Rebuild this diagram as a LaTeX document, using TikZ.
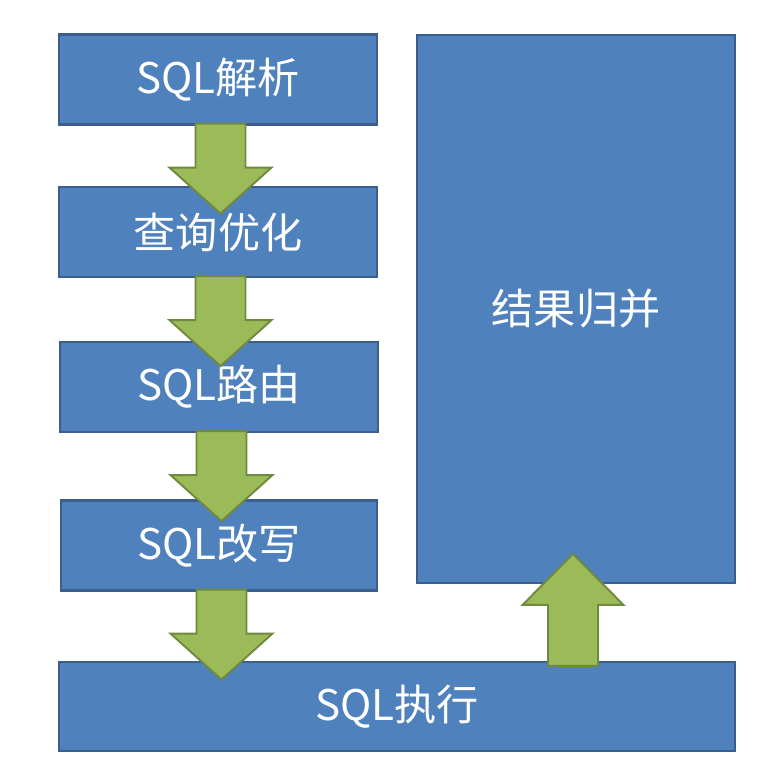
\documentclass[tikz,border=0pt]{standalone}
\usepackage{fontspec}
\newfontfamily\cjk{Noto Sans CJK SC}
\usepackage{xcolor}
\usepackage{tikz}
\usetikzlibrary{positioning, calc}
\definecolor{boxblue}{HTML}{4F81BD}
\definecolor{boxedge}{HTML}{3A5F8C}
\definecolor{arrgreen}{HTML}{9BBB59}
\definecolor{arredge}{HTML}{71893F}

\begin{document}
\begin{tikzpicture}[
  stage/.style={rectangle, draw=boxedge, fill=boxblue, line width=1.2pt,
                text=white, font=\cjk\fontsize{24}{29}\selectfont,
                minimum width=6.36cm, minimum height=1.8cm, inner sep=0pt},
  flow/.style={draw=arredge, fill=arrgreen, line width=1.1pt, line join=miter}
]
\useasboundingbox (0,0) rectangle (15.56,-15.62);
\node[stage] (parse) at (4.36,-1.59) {SQL解析};
\node[stage] (optim) at (4.36,-4.64) {查询优化};
\node[stage] (route) at (4.38,-7.74) {SQL路由};
\node[stage, minimum width=6.32cm] (rewrite) at (4.38,-10.91) {SQL改写};
\node[stage, minimum width=13.52cm, minimum height=1.78cm] (exec) at (7.94,-14.13) {SQL执行};
\node[stage, minimum height=10.96cm] (result) at (11.52,-6.18) {结果归并};
% block arrows down the left column
\foreach \n in {parse, optim, route, rewrite}{
  \draw[flow] ($(\n.south)+(-0.45,0.04)$) -- ++(0,-0.88) -- ++(-0.52,0)
    -- ++(1.02,-0.92) -- ++(1.02,0.92) -- ++(-0.52,0) -- ++(0,0.88) -- cycle;
}
% block arrow up into the merge box
\draw[flow] ($(result.south |- exec.north)+(-0.56,-0.1)$) -- ++(0,1.22) -- ++(-0.51,0)
  -- ++(1.01,1.02) -- ++(1.01,-1.02) -- ++(-0.51,0) -- ++(0,-1.22) -- cycle;
\end{tikzpicture}
\end{document}
